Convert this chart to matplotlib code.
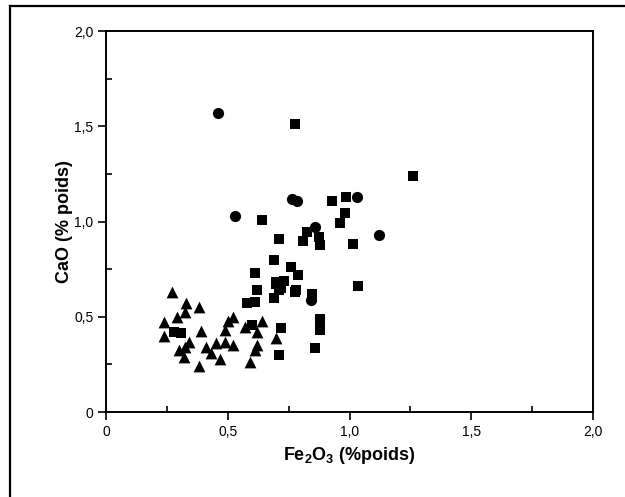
import matplotlib
matplotlib.use("Agg")
import matplotlib.pyplot as plt
from matplotlib.lines import Line2D
from matplotlib.ticker import MultipleLocator

plt.rcParams["font.family"] = ["Liberation Sans", "DejaVu Sans"]
plt.rcParams["mathtext.fontset"] = "custom"
plt.rcParams["mathtext.rm"] = "Liberation Sans:bold"
plt.rcParams["mathtext.it"] = "Liberation Sans:bold"
plt.rcParams["mathtext.bf"] = "Liberation Sans:bold"

# --- data (Fe2O3 %, CaO %) ---
circle_x = [0.46, 0.53, 0.765, 0.785, 1.03, 1.12, 0.86, 0.84]
circle_y = [1.57, 1.03, 1.12, 1.11, 1.13, 0.93, 0.97, 0.59]

square_x = [0.775, 1.26, 0.64, 0.93, 0.985, 0.98, 0.96, 0.71, 0.81, 0.825,
            0.875, 0.88, 1.015, 0.69, 0.76, 0.79, 0.61, 0.73, 0.70, 0.69,
            0.71, 0.72, 0.775, 0.78, 0.845, 0.88, 0.88, 0.88, 0.86, 1.035,
            0.62, 0.58, 0.61, 0.72, 0.71, 0.60, 0.28, 0.31, 0.70]
square_y = [1.51, 1.24, 1.01, 1.11, 1.13, 1.045, 0.99, 0.91, 0.90, 0.945,
            0.92, 0.875, 0.88, 0.80, 0.76, 0.72, 0.73, 0.69, 0.68, 0.60,
            0.64, 0.65, 0.63, 0.64, 0.62, 0.49, 0.45, 0.43, 0.335, 0.66,
            0.64, 0.57, 0.58, 0.44, 0.30, 0.455, 0.42, 0.415, 0.67]

tri_x = [0.27, 0.33, 0.38, 0.325, 0.29, 0.24, 0.24, 0.39, 0.34, 0.30,
         0.325, 0.32, 0.38, 0.41, 0.45, 0.43, 0.49, 0.47, 0.52, 0.49,
         0.50, 0.52, 0.57, 0.64, 0.62, 0.62, 0.61, 0.59, 0.70]
tri_y = [0.63, 0.57, 0.55, 0.525, 0.50, 0.47, 0.40, 0.425, 0.37, 0.325,
         0.34, 0.29, 0.24, 0.34, 0.36, 0.31, 0.37, 0.28, 0.35, 0.43,
         0.48, 0.50, 0.445, 0.48, 0.42, 0.35, 0.325, 0.26, 0.39]

tick_vals = [0, 0.5, 1.0, 1.5, 2.0]
tick_labels = ["0", "0,5", "1,0", "1,5", "2,0"]

fig = plt.figure(figsize=(6.25, 4.97), dpi=100)
ax = fig.add_axes([0.1696, 0.171, 0.7792, 0.7666])

ax.scatter(tri_x, tri_y, marker="^", s=72, color="black", linewidths=0)
ax.scatter(square_x, square_y, marker="s", s=60, color="black", linewidths=0)
ax.scatter(circle_x, circle_y, marker="o", s=65, color="black", linewidths=0)

ax.set_xlim(0, 2.0)
ax.set_ylim(0, 2.0)
ax.set_xticks(tick_vals)
ax.set_xticklabels(tick_labels)
ax.set_yticks(tick_vals)
ax.set_yticklabels(tick_labels)
ax.xaxis.set_minor_locator(MultipleLocator(0.25))
ax.yaxis.set_minor_locator(MultipleLocator(0.25))
ax.tick_params(which="major", direction="out", length=6, width=1.2,
               labelsize=10, pad=3)
ax.tick_params(which="minor", direction="in", length=4, width=1.2)
for sp in ax.spines.values():
    sp.set_linewidth(1.4)

ax.set_xlabel("Fe$_2$O$_3$ (%poids)", fontsize=13, fontweight="bold", labelpad=5)
ax.set_ylabel("CaO (% poids)", fontsize=13, fontweight="bold", labelpad=1)

# scanned page frame
fig.add_artist(Line2D([10 / 625, 1.0], [1 - 6 / 497, 1 - 6 / 497],
                      transform=fig.transFigure, color="black", lw=1.6))
fig.add_artist(Line2D([10 / 625, 10 / 625], [1 - 6 / 497, 0.0],
                      transform=fig.transFigure, color="black", lw=1.6))

fig.savefig("out.png", dpi=100)
